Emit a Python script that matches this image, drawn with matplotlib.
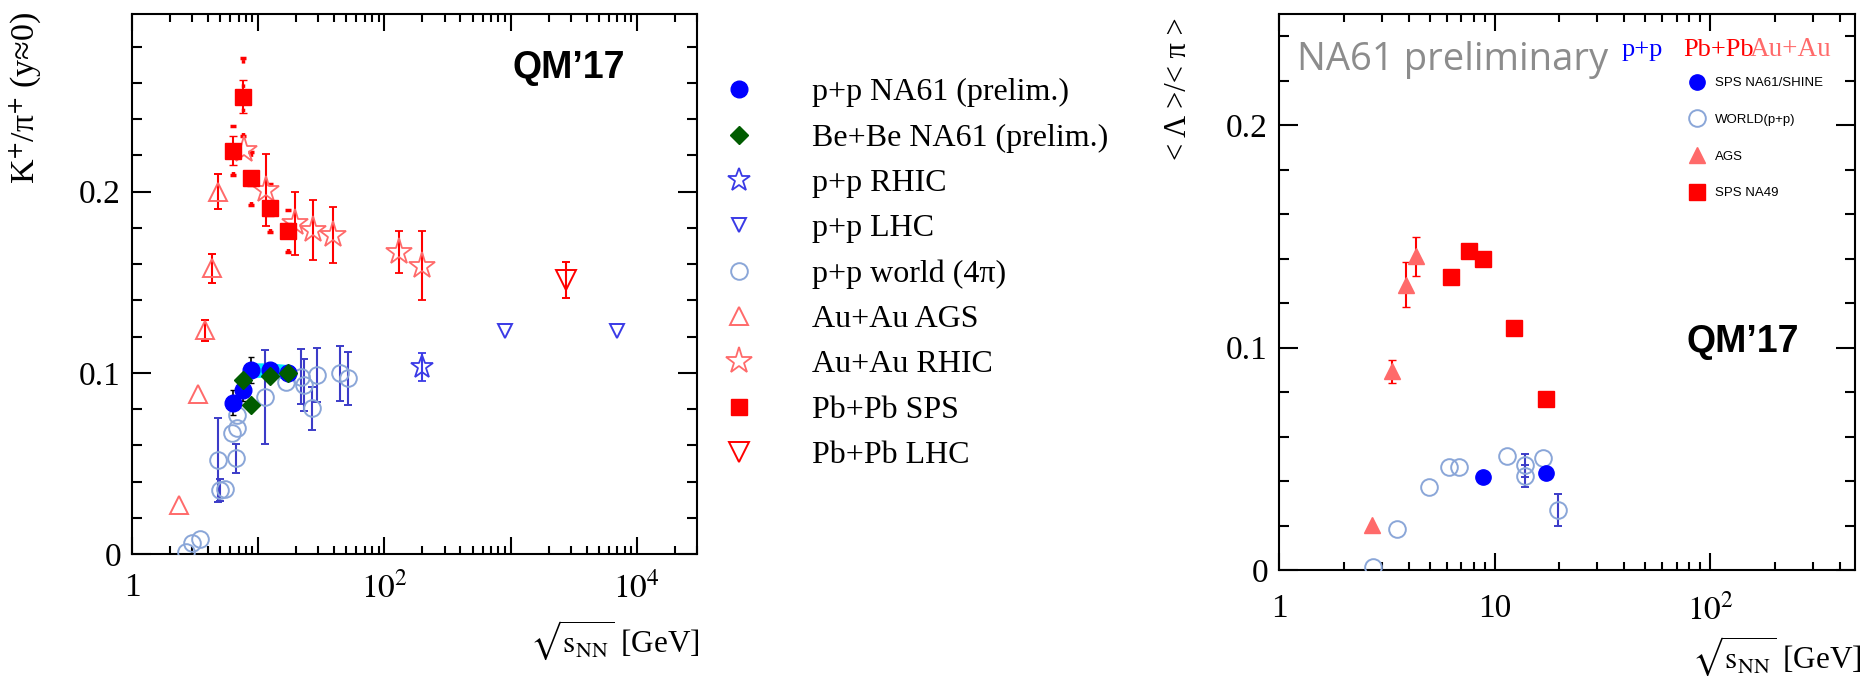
"""K+/pi+ and Lambda/pi ratios versus collision energy, two panels."""

import matplotlib.pyplot as plt
import numpy as np
from matplotlib.ticker import LogLocator, MultipleLocator, NullFormatter

plt.rcParams['font.family'] = ['Liberation Serif', 'DejaVu Serif']
plt.rcParams['mathtext.fontset'] = 'stix'

W, H = 1863, 678

# K+/pi+ at midrapidity
pp_na61_e = [6.3, 7.6, 8.8, 12.3, 17.3]
pp_na61_r = [0.0835, 0.0905, 0.1015, 0.1015, 0.0998]
pp_na61_sys = [0.007, 0.006, 0.007, 0.004, 0.004]
na61_band_e = [8.0, 8.8, 12.3, 17.3, 18.5]
na61_band_lo = [0.0970, 0.0975, 0.0975, 0.0965, 0.0965]
na61_band_hi = [0.1050, 0.1055, 0.1055, 0.1045, 0.1045]

bebe_e = [7.6, 8.8, 12.3, 17.3]
bebe_r = [0.096, 0.082, 0.098, 0.0997]

pp_rhic_e = [200]
pp_rhic_r = [0.103]
pp_rhic_err = [0.0078]

pp_lhc_e = [900, 7000]
pp_lhc_r = [0.1233, 0.1233]

world_e = [2.68, 2.97, 3.45, 4.83, 4.97, 5.45, 6.16, 6.66, 6.74, 6.83,
           11.3, 16.6, 22.0, 23.1, 26.9, 29.3, 44.4, 51.6]
world_r = [0.0013, 0.0059, 0.0081, 0.0519, 0.0353, 0.0357, 0.0666, 0.0528,
           0.0694, 0.0767, 0.0868, 0.0951, 0.0979, 0.0933, 0.0804, 0.0988,
           0.0997, 0.0969]
world_err = [0, 0, 0, 0.023, 0.006, 0, 0, 0.008, 0, 0,
             0.026, 0, 0.015, 0.0145, 0.012, 0.015, 0.015, 0.0147]

ags_e = [2.37, 3.36, 3.8, 4.27, 4.83]
ags_r = [0.027, 0.0883, 0.1234, 0.1577, 0.2000]
ags_err = [0, 0, 0.006, 0.008, 0.0097]

auau_rhic_e = [7.7, 11.5, 19.6, 27, 39, 130, 200]
auau_rhic_r = [0.223, 0.201, 0.1825, 0.1788, 0.176, 0.1665, 0.159]
auau_rhic_err = [0, 0.020, 0.0175, 0.0166, 0.0155, 0.0115, 0.019]

sps_e = [6.3, 7.6, 8.8, 12.3, 17.3]
sps_r = [0.2226, 0.2524, 0.2073, 0.1908, 0.1784]
sps_stat = [0.008, 0.009, 0.004, 0.004, 0.004]
sps_sys = [0.0136, 0.0215, 0.0147, 0.0133, 0.0116]

pbpb_lhc_e = [2760]
pbpb_lhc_r = [0.1512]
pbpb_lhc_err = [0.0097]

# <Lambda>/<pi> in full phase space
na49_e = [6.3, 7.6, 8.8, 12.3, 17.3]
na49_r = [0.1316, 0.1433, 0.140, 0.1088, 0.0768]

ags2_e = [2.69, 3.33, 3.88, 4.33]
ags2_r = [0.0203, 0.0893, 0.1283, 0.141]
ags2_err = [0, 0.005, 0.010, 0.0087]

na61_lam_e = [8.8, 17.3]
na61_lam_r = [0.0416, 0.0435]
na61_lam_err = [0.0015, 0.002]

world2_e = [2.72, 3.53, 4.95, 6.13, 6.87, 11.4, 13.9, 13.9, 16.8, 19.6]
world2_r = [0.0015, 0.0184, 0.0375, 0.0465, 0.0465, 0.0513, 0.047, 0.0424,
            0.0505, 0.027]
world2_err = [0, 0, 0, 0, 0, 0, 0.005, 0.005, 0, 0.007]

RED = '#ff0000'
LRED = '#ff6a6a'
BLUE = '#0000ff'
PPBLUE = '#3a3ae6'
WORLD = '#8aa6d8'
EBLUE = '#3c3cc8'
GREEN = '#005c00'
CYAN = '#00e6ff'


def fx(px):
    return px / W


def fy(py):
    return 1 - py / H


def errs(values):
    # points without a measured error get no bar (and no cap)
    e = np.asarray(values, dtype=float)
    return np.where(e > 0, e, np.nan)


def style_axes(ax, xmax, ymax, xlabels):
    ax.set_xscale('log')
    ax.set_xlim(1, xmax)
    ax.set_ylim(0, ymax)
    decades = [10 ** k for k in range(len(xlabels))]
    ax.set_xticks(decades)
    ax.set_xticklabels(xlabels)
    ax.xaxis.set_minor_locator(LogLocator(base=10, subs=np.arange(2, 10), numticks=30))
    ax.xaxis.set_minor_formatter(NullFormatter())
    ax.set_yticks([0, 0.1, 0.2])
    ax.set_yticklabels(['0', '0.1', '0.2'])
    ax.yaxis.set_minor_locator(MultipleLocator(0.02))
    ax.tick_params(which='both', direction='in', top=True, right=True,
                   width=1.5, labelsize=24, colors='black')
    ax.tick_params(axis='x', which='major', length=12, pad=13)
    ax.tick_params(axis='x', which='minor', length=6)
    ax.tick_params(axis='y', which='major', length=14, pad=8)
    ax.tick_params(axis='y', which='minor', length=7)
    for sp in ax.spines.values():
        sp.set_linewidth(1.5)


fig = plt.figure(figsize=(W / 100, H / 100), dpi=100)

# ---------------- left panel: K+/pi+ ----------------
ax1 = fig.add_axes([fx(132), fy(554), fx(697) - fx(132), fy(14) - fy(554)])
style_axes(ax1, 3e4, 0.298, ['1', '', '$10^{2}$', '', '$10^{4}$'])

ax1.fill_between(na61_band_e, na61_band_lo, na61_band_hi, color=CYAN, lw=0, zorder=2)

h_world = ax1.errorbar(world_e, world_r, yerr=errs(world_err), fmt='o', ms=12,
                       mfc='none', mec=WORLD, mew=1.4, ecolor=EBLUE,
                       elinewidth=1.5, capsize=3, zorder=3)
h_ags = ax1.errorbar(ags_e, ags_r, yerr=errs(ags_err), fmt='^', ms=13, mfc='none',
                     mec=LRED, mew=1.4, ecolor=RED, elinewidth=1.5, capsize=3, zorder=3)
h_arhic = ax1.errorbar(auau_rhic_e, auau_rhic_r, yerr=errs(auau_rhic_err), fmt='*',
                       ms=20, mfc='none', mec=LRED, mew=1.3, ecolor=RED,
                       elinewidth=1.5, capsize=3, zorder=3)
sys_bars = ax1.errorbar(sps_e, sps_r, yerr=sps_sys, fmt='none', ecolor=RED,
                        elinewidth=2.5, capsize=2, capthick=2.5, zorder=3)
sys_bars[2][0].set_linestyle((0, (1, 6)))
h_sps = ax1.errorbar(sps_e, sps_r, yerr=sps_stat, fmt='s', ms=12, mfc=RED,
                     mec=RED, ecolor=RED, elinewidth=1.5, capsize=3, zorder=4)
h_plhc = ax1.errorbar(pbpb_lhc_e, pbpb_lhc_r, yerr=pbpb_lhc_err, fmt='v', ms=14,
                      mfc='none', mec=RED, mew=1.4, ecolor=RED, elinewidth=1.5,
                      capsize=3, zorder=3)
h_lhc = ax1.errorbar(pp_lhc_e, pp_lhc_r, fmt='v', ms=10, mfc='none', mec=PPBLUE,
                     mew=1.4, zorder=3)
h_prhic = ax1.errorbar(pp_rhic_e, pp_rhic_r, yerr=pp_rhic_err, fmt='*', ms=17,
                       mfc='none', mec=PPBLUE, mew=1.3, ecolor=PPBLUE,
                       elinewidth=1.5, capsize=3, zorder=3)
ax1.errorbar(pp_na61_e, pp_na61_r, yerr=pp_na61_sys, fmt='none', ecolor='black',
             elinewidth=1.2, capsize=2.5, zorder=4)
h_na61 = ax1.errorbar(pp_na61_e, pp_na61_r, fmt='o', ms=12, mfc=BLUE, mec=BLUE, zorder=5)
h_bebe = ax1.errorbar(bebe_e, bebe_r, fmt='D', ms=9, mfc=GREEN, mec=GREEN, zorder=6)

fig.text(fx(513), fy(68), 'QM\u201917', fontsize=27, fontweight='bold',
         family='Liberation Sans', ha='left', va='center')

fig.text(fx(25), fy(12), 'K$^{+}$/\u03c0$^{+}$ (y\u22480)', rotation=90,
         ha='center', va='top', fontsize=24.5)
fig.text(fx(700), fy(640), r'$\sqrt{\mathrm{s}_{\mathrm{NN}}}$ [GeV]', ha='right',
         va='center', fontsize=22.5)

handles = [h_na61.lines[0], h_bebe.lines[0], h_prhic.lines[0], h_lhc.lines[0],
           h_world.lines[0], h_ags.lines[0], h_arhic.lines[0], h_sps.lines[0],
           h_plhc.lines[0]]
labels = ['p+p NA61 (prelim.)', 'Be+Be NA61 (prelim.)', 'p+p RHIC', 'p+p LHC',
          'p+p world (4\u03c0)', 'Au+Au AGS', 'Au+Au RHIC', 'Pb+Pb SPS',
          'Pb+Pb LHC']
fig.legend(handles, labels, loc='upper left', bbox_to_anchor=(fx(723), fy(78)),
           frameon=False, fontsize=23, handlelength=1.0, handletextpad=1.8,
           labelspacing=0.5, borderpad=0, borderaxespad=0)

# ---------------- right panel: Lambda/pi ----------------
ax2 = fig.add_axes([fx(1279), fy(570), fx(1855) - fx(1279), fy(14) - fy(570)])
style_axes(ax2, 470, 0.25, ['1', '10', '$10^{2}$'])
ax2.tick_params(axis='x', which='major', pad=17)

h2_world = ax2.errorbar(world2_e, world2_r, yerr=errs(world2_err), fmt='o', ms=12,
                        mfc='none', mec=WORLD, mew=1.4, ecolor=EBLUE,
                        elinewidth=1.5, capsize=3, zorder=3)
h2_ags = ax2.errorbar(ags2_e, ags2_r, yerr=errs(ags2_err), fmt='^', ms=12, mfc=LRED,
                      mec=LRED, ecolor=RED, elinewidth=1.5, capsize=3, zorder=3)
h2_na49 = ax2.errorbar(na49_e, na49_r, fmt='s', ms=12, mfc=RED, mec=RED, zorder=4)
h2_na61 = ax2.errorbar(na61_lam_e, na61_lam_r, yerr=na61_lam_err, fmt='o', ms=11,
                       mfc=BLUE, mec=BLUE, ecolor=BLUE, elinewidth=1.5,
                       capsize=2, zorder=5)

fig.text(fx(1297), fy(60), 'NA61 preliminary', fontsize=27.5, family='Open Sans',
         color='#8c8c8c', ha='left', va='center')
fig.text(fx(1622), fy(50), 'p+p', color=BLUE, fontsize=19, ha='left', va='center')
fig.text(fx(1683), fy(50), 'Pb+Pb', color=RED, fontsize=19, ha='left', va='center')
fig.text(fx(1750), fy(50), 'Au+Au', color=LRED, fontsize=19.5, ha='left', va='center')
fig.text(fx(1686), fy(342), 'QM\u201917', fontsize=27, fontweight='bold',
         family='Liberation Sans', ha='left', va='center')

fig.text(fx(1178), fy(17), '< \u039b >/< \u03c0 >', rotation=90,
         ha='center', va='top', fontsize=22)
fig.text(fx(1862), fy(656), r'$\sqrt{\mathrm{s}_{\mathrm{NN}}}$ [GeV]', ha='right',
         va='center', fontsize=22.5)

fig.legend([h2_na61.lines[0], h2_world.lines[0], h2_ags.lines[0], h2_na49.lines[0]],
           ['SPS NA61/SHINE', 'WORLD(p+p)', 'AGS', 'SPS NA49'],
           loc='upper left', bbox_to_anchor=(fx(1690), fy(77)), frameon=False,
           prop={'family': 'Liberation Sans', 'size': 9.5},
           handlelength=1.0, handletextpad=0.9, labelspacing=1.85,
           borderpad=0, borderaxespad=0, markerscale=1.0)

fig.savefig('out.png', dpi=100)
